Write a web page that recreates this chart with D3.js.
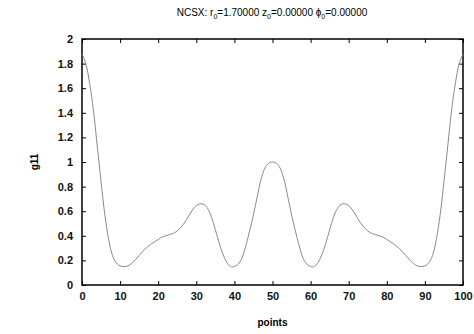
<!DOCTYPE html>
<html>
<head>
<meta charset="utf-8">
<script src="https://cdn.jsdelivr.net/npm/d3@7"></script>
<style>
  body { margin: 0; background: #fff; }
  svg { display: block; font-family: "Liberation Sans", Arial, sans-serif; }
</style>
</head>
<body>
<svg class="canvas" width="474" height="334"></svg>
<script>
// g11 values at points 0..100
const g11 = [
  1.88, 1.80, 1.64, 1.42, 1.13, 0.84, 0.57, 0.37, 0.24, 0.18,
  0.155, 0.15, 0.155, 0.175, 0.205, 0.24, 0.275, 0.305, 0.33, 0.35,
  0.37, 0.39, 0.40, 0.41, 0.42, 0.44, 0.47, 0.51, 0.56, 0.61,
  0.645, 0.66, 0.655, 0.62, 0.55, 0.45, 0.34, 0.25, 0.185, 0.15,
  0.15, 0.17, 0.22, 0.32, 0.44, 0.57, 0.72, 0.86, 0.95, 0.99,
  1.00, 0.99, 0.95, 0.86, 0.72, 0.57, 0.44, 0.32, 0.22, 0.17,
  0.15, 0.15, 0.185, 0.25, 0.34, 0.45, 0.55, 0.62, 0.655, 0.66,
  0.645, 0.61, 0.56, 0.51, 0.47, 0.44, 0.42, 0.41, 0.40, 0.39,
  0.37, 0.35, 0.33, 0.305, 0.275, 0.24, 0.205, 0.175, 0.155, 0.15,
  0.155, 0.18, 0.24, 0.37, 0.57, 0.84, 1.13, 1.42, 1.64, 1.80,
  1.88
];
const points = g11.map((d, i) => i);
const xTicks = [0, 10, 20, 30, 40, 50, 60, 70, 80, 90, 100];
const yTicks = [0, 0.2, 0.4, 0.6, 0.8, 1, 1.2, 1.4, 1.6, 1.8, 2];

const svg = d3.select(".canvas");
const mLeft = 82, mRight = 463, mTop = 39, mBottom = 285;

const xScale = d3.scaleLinear().domain([0, 100]).range([mLeft, mRight]);
const yScale = d3.scaleLinear().domain([0, 2]).range([mBottom, mTop]);
const fmt = (d) => String(d);

// ticks on all four sides, pointing inward
const axes = [
  { axis: d3.axisBottom(xScale).tickValues(xTicks).tickFormat(fmt).tickSizeInner(-4).tickSizeOuter(0).tickPadding(7), t: `translate(0,${mBottom})`, labels: true },
  { axis: d3.axisTop(xScale).tickValues(xTicks).tickSizeInner(-4).tickSizeOuter(0), t: `translate(0,${mTop})`, labels: false },
  { axis: d3.axisLeft(yScale).tickValues(yTicks).tickFormat(fmt).tickSizeInner(-4).tickSizeOuter(0).tickPadding(9), t: `translate(${mLeft},0)`, labels: true },
  { axis: d3.axisRight(yScale).tickValues(yTicks).tickSizeInner(-4).tickSizeOuter(0), t: `translate(${mRight},0)`, labels: false }
];
axes.forEach((a) => {
  const g = svg.append("g").attr("transform", a.t).call(a.axis);
  g.select(".domain").remove();
  g.selectAll(".tick line").attr("stroke", "#000").attr("stroke-width", 1);
  if (a.labels) {
    g.selectAll(".tick text")
      .style("font-size", "11px")
      .style("font-weight", "bold")
      .attr("fill", "#111");
  } else {
    g.selectAll(".tick text").remove();
  }
});

// border
svg.append("rect")
  .attr("x", mLeft).attr("y", mTop)
  .attr("width", mRight - mLeft).attr("height", mBottom - mTop)
  .attr("fill", "none").attr("stroke", "#000").attr("stroke-width", 1.5);

// curve
const line = d3.line()
  .x((d, i) => xScale(points[i]))
  .y((d) => yScale(d))
  .curve(d3.curveCatmullRom);
svg.append("path")
  .datum(g11)
  .attr("d", line)
  .attr("fill", "none")
  .attr("stroke", "#8a8a8a")
  .attr("stroke-width", 1);

// titles
const title = svg.append("text")
  .attr("x", 272).attr("y", 16)
  .attr("text-anchor", "middle")
  .style("font-size", "10px")
  .attr("fill", "#000");
title.append("tspan").text("NCSX: r");
title.append("tspan").text("0").attr("dy", 3).style("font-size", "7px");
title.append("tspan").text("=1.70000 z").attr("dy", -3);
title.append("tspan").text("0").attr("dy", 3).style("font-size", "7px");
title.append("tspan").text("=0.00000 \u03d5").attr("dy", -3);
title.append("tspan").text("0").attr("dy", 3).style("font-size", "7px");
title.append("tspan").text("=0.00000").attr("dy", -3);

svg.append("text")
  .attr("x", (mLeft + mRight) / 2).attr("y", 326)
  .attr("text-anchor", "middle")
  .style("font-size", "10px").style("font-weight", "bold")
  .text("points");

svg.append("text")
  .attr("transform", `translate(38,${(mTop + mBottom) / 2}) rotate(-90)`)
  .attr("text-anchor", "middle")
  .style("font-size", "10px").style("font-weight", "bold")
  .text("g11");
</script>
</body>
</html>
